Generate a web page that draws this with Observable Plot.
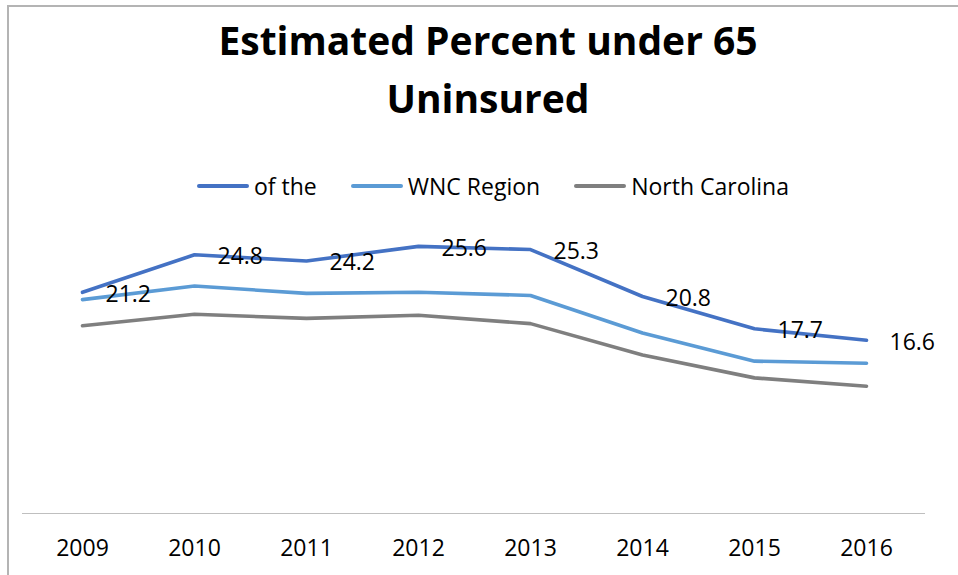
<!DOCTYPE html>
<html>
<head>
<meta charset="utf-8">
<script src="https://cdn.jsdelivr.net/npm/d3@7"></script>
<script src="https://cdn.jsdelivr.net/npm/@observablehq/plot@0.6"></script>
<style>
  html, body { margin: 0; padding: 0; background: #fff; }
  #wrap { position: relative; width: 958px; height: 575px; overflow: hidden; font-family: "Open Sans", sans-serif; }
  #frame { position: absolute; left: 7px; top: 5px; width: 960px; height: 600px; border-left: 2px solid #b4b4b4; border-top: 2px solid #b4b4b4; box-sizing: border-box; }
  #header { position: relative; height: 200px; }
  #title { position: absolute; left: 9px; top: 11px; width: 958px; text-align: center; font-weight: bold; font-size: 39px; line-height: 58px; color: #000; }
  #legend { position: absolute; left: 14px; top: 170px; width: 958px; display: flex; justify-content: center; align-items: center; height: 32px; font-size: 23px; color: #000; }
  .item { display: flex; align-items: center; margin: 0 17px; }
  .sw { width: 52px; height: 4px; margin-right: 5px; border-radius: 2px; }
</style>
</head>
<body>
<div id="wrap">
  <div id="frame"></div>
  <div id="header">
    <div id="title">Estimated Percent under 65<br>Uninsured</div>
    <div id="legend"></div>
  </div>
  <div id="chart"></div>
</div>
<script>
const years = ["2009", "2010", "2011", "2012", "2013", "2014", "2015", "2016"];
const seriesNames = ["of the", "WNC Region", "North Carolina"];
const seriesColors = ["#4472C4", "#5B9BD5", "#7F7F7F"];
const ofThe = [21.2, 24.8, 24.2, 25.6, 25.3, 20.8, 17.7, 16.6];
const wncRegion = [20.5, 21.8, 21.1, 21.2, 20.9, 17.3, 14.6, 14.4];
const northCarolina = [18.0, 19.1, 18.7, 19.0, 18.2, 15.2, 13.0, 12.2];

const seriesValues = [ofThe, wncRegion, northCarolina];
const rows = seriesValues.map((vals, s) => years.map((yr, i) => ({year: yr, value: vals[i], series: seriesNames[s]})));

// legend
const legend = document.getElementById("legend");
seriesNames.forEach((name, i) => {
  const it = document.createElement("div");
  it.className = "item";
  const sw = document.createElement("div");
  sw.className = "sw";
  sw.style.background = seriesColors[i];
  const tx = document.createElement("span");
  tx.textContent = name;
  it.appendChild(sw); it.appendChild(tx);
  legend.appendChild(it);
});

const fmt = d3.format(".1f");

const chart = Plot.plot({
  width: 958,
  height: 375,
  marginTop: 0,
  marginBottom: 62,
  marginLeft: 22,
  marginRight: 33,
  style: {fontFamily: "Open Sans", fontSize: "23px", color: "#000", background: "transparent", overflow: "visible"},
  x: {type: "point", domain: years, padding: 0.5, label: null},
  y: {domain: [0, 30], axis: null},
  marks: [
    Plot.ruleY([0], {stroke: "#bfbfbf", strokeWidth: 1.2}),
    ...rows.map((r, i) => Plot.line(r, {x: "year", y: "value", stroke: seriesColors[i], strokeWidth: 3.6, strokeLinejoin: "round", strokeLinecap: "round"})),
    Plot.text(rows[0], {x: "year", y: "value", text: d => fmt(d.value), textAnchor: "start", dx: 23, dy: 2, fontSize: 23, fill: "#000"}),
    Plot.axisX({tickSize: 0, tickPadding: 26, fontSize: 23, label: null, fill: "#000"})
  ]
});
document.getElementById("chart").appendChild(chart);
</script>
</body>
</html>
